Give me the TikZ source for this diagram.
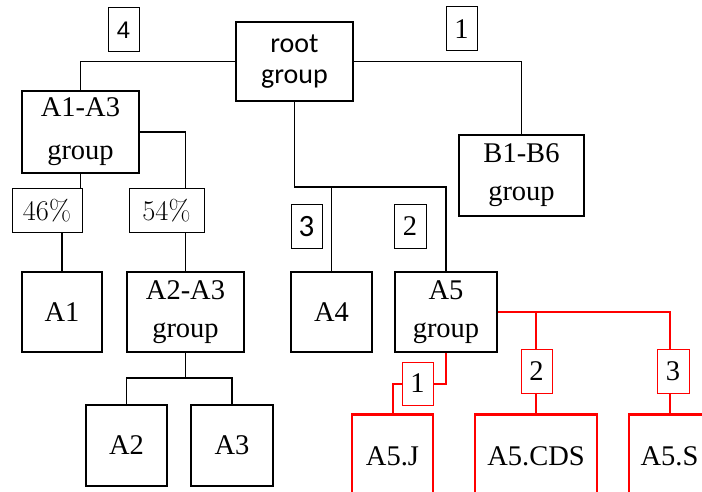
\documentclass[tikz,border=0pt]{standalone}
\usepackage[no-math]{fontspec}
\newfontfamily\tmsfont{Liberation Serif}
\newfontfamily\clbfont{Carlito}
\newfontfamily\arlfont{Liberation Sans}
\pgfdeclarelayer{background}
\pgfsetlayers{background,main}
\begin{document}
\begin{tikzpicture}[x=1pt,y=-1pt,
  box/.style={draw=black,line width=2.6pt,fill=white,inner sep=0pt,align=center,
    font=\tmsfont\fontsize{28.5}{38}\selectfont},
  rbox/.style={box,draw=red,anchor=north,minimum height=84},
  lab/.style={draw=black,line width=1pt,fill=white,inner sep=0pt,
    font=\tmsfont\fontsize{28.5}{34}\selectfont},
  rlab/.style={lab,draw=red},
  conn/.style={draw=black,line width=1.6pt},
  rconn/.style={draw=red,line width=2pt}]
\useasboundingbox (0,0) rectangle (702,492);
% boxes
\node[box,minimum width=117,minimum height=79,font=\clbfont\fontsize{28}{31}\selectfont] (root) at (294.5,61.5) {root\\group};
\node[box,minimum width=117,minimum height=82,font=\tmsfont\fontsize{28.5}{43}\selectfont] (a13) at (80.5,132) {A1-A3\\group};
\node[box,minimum width=125,minimum height=81] (b16) at (521.5,175.5) {B1-B6\\group};
\node[box,minimum width=80,minimum height=80] (a1) at (62,312) {A1};
\node[box,minimum width=117,minimum height=80] (a23) at (185.5,312) {A2-A3\\group};
\node[box,minimum width=81,minimum height=80] (a4) at (331.5,312) {A4};
\node[box,minimum width=102,minimum height=80] (a5g) at (446,312) {A5\\group};
\node[box,minimum width=81,minimum height=81] (a2) at (126.5,445.5) {A2};
\node[box,minimum width=82,minimum height=81] (a3) at (232,445.5) {A3};
\node[rbox,minimum width=81] (a5j) at (392.5,413) {A5.J};
\node[rbox,minimum width=122] (a5cds) at (536,413) {A5.CDS};
\node[rbox,minimum width=81] (a5s) at (669.5,413) {A5.S};
% labels
\node[lab,minimum width=31,minimum height=44,font=\arlfont\fontsize{24}{28}\selectfont] (l4) at (123.5,30) {4};
\node[lab,minimum width=31,minimum height=44] (l1) at (461.5,29) {1};
\node[lab,minimum width=31,minimum height=43,font=\clbfont\fontsize{31}{36}\selectfont] (l3) at (306.5,226.5) {3};
\node[lab,minimum width=32,minimum height=43] (l2) at (410,226.5) {2};
\node[lab,minimum width=70,minimum height=43,font=\rmfamily\fontsize{28.5}{34}\selectfont] (p46) at (47,210.5) {46\%};
\node[lab,minimum width=75,minimum height=43,font=\rmfamily\fontsize{28.5}{34}\selectfont] (p54) at (166.5,210.5) {54\%};
\node[rlab,minimum width=31,minimum height=43] (r1) at (417.5,383.5) {1};
\node[rlab,minimum width=31,minimum height=44] (r2) at (536.5,371) {2};
\node[rlab,minimum width=32,minimum height=44] (r3) at (673,371) {3};
% connectors
\coordinate (rj) at (294.5,187);
\coordinate (s23) at (185.5,378);
\begin{pgfonlayer}{background}
\draw[conn] (root.west) -| (a13.north);
\draw[conn] (root.east) -| (b16.north);
\draw[conn] (root.south) -- (rj) -| (a5g.north);
\draw[conn] (a4.north) -- (a4.north |- rj);
\draw[conn] (a13.south) -- (a13.south |- p46.north);
\draw[conn] (a1.north) -- (a1.north |- p46.south);
\draw[conn] (a13.east) -| (a23.north);
\draw[conn] (a23.south) -- (s23);
\draw[conn] (a2.north) |- (s23) -| (a3.north);
\draw[rconn] (a5g.east) -| (a5s.north);
\draw[rconn] (a5cds.north) -- (a5cds.north |- a5g.east);
\draw[rconn] (a5g.south) |- (r1.east);
\draw[rconn] (r1.west) -| (a5j.north);
\end{pgfonlayer}
\end{tikzpicture}
\end{document}
